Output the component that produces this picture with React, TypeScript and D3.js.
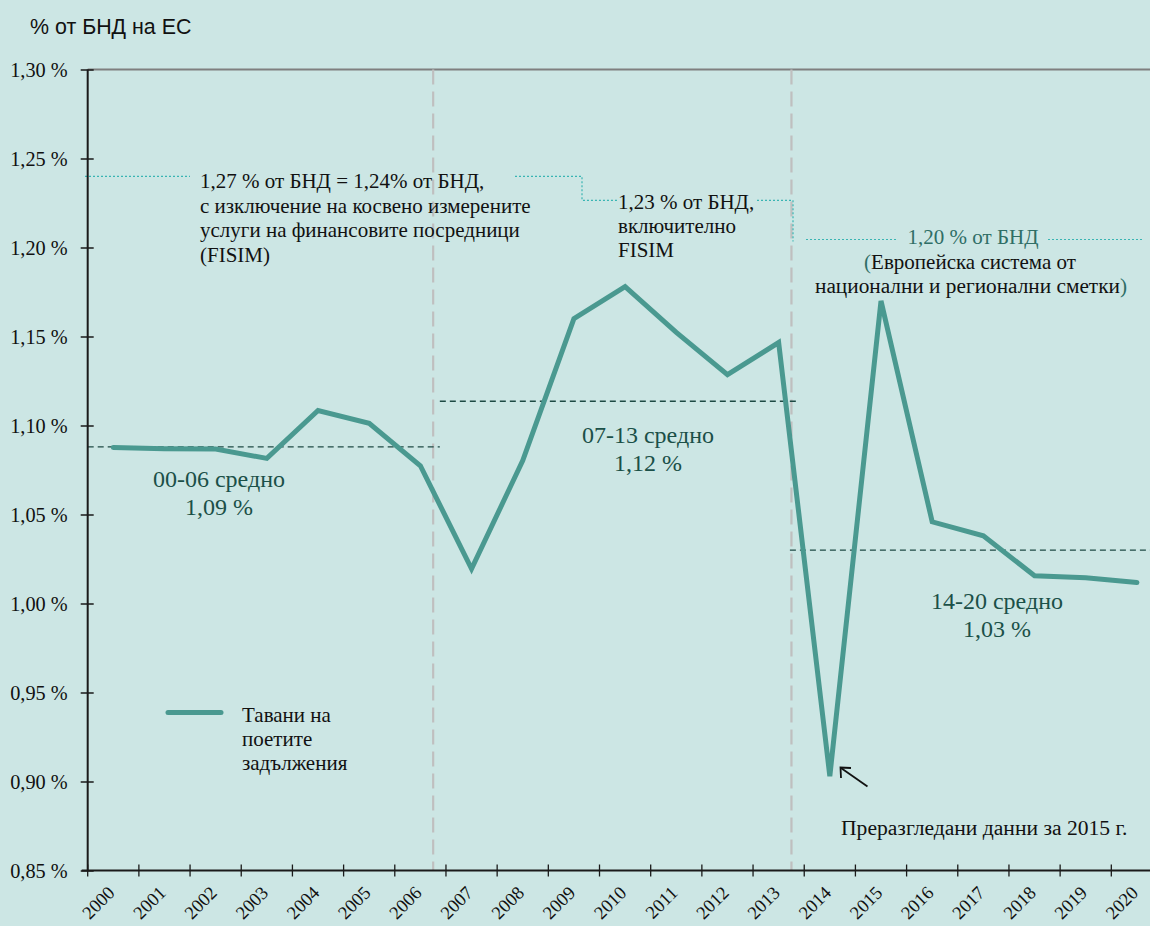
import React, { useEffect, useRef } from "react";
import * as d3 from "d3";

const years = ["2000","2001","2002","2003","2004","2005","2006","2007","2008","2009","2010","2011","2012","2013","2014","2015","2016","2017","2018","2019","2020"];
const ceilings = [1.0876,1.0870,1.0868,1.0815,1.1084,1.1012,1.0774,1.0195,1.0803,1.1600,1.1780,1.1523,1.1286,1.1466,0.9030,1.1700,1.0459,1.0380,1.0156,1.0145,1.0118];
const yTicks = [0.85,0.90,0.95,1.00,1.05,1.10,1.15,1.20,1.25,1.30];
const periodAverages = [1.0880, 1.1136, 1.0300];
const periodAvgLabels = [["00-06 средно","1,09 %"],["07-13 средно","1,12 %"],["14-20 средно","1,03 %"]];
const periodAvgExtent = [[0, 6.88],[6.88, 13.88],[13.72, 21]];
const periodDividers = [6.75, 13.75];
const legendLabel = ["Тавани на","поетите","задължения"];

const W = 1150, H = 926;
const BG = "#cce6e4";
const LINE = "#4a9990";
const DARKTEAL = "#1b5048";
const CYAN = "#3ab5b3";

export default function App() {
  const ref = useRef<SVGSVGElement>(null);

  useEffect(() => {
    const svg = d3.select(ref.current);
    svg.selectAll("*").remove();

    const x0 = 87.7, x1 = 1162.5;
    const x = d3.scaleBand<string>().domain(years).range([x0, x1]).padding(0);
    const xi = d3.scaleLinear().domain([0, years.length]).range([x0, x1]);
    const y = d3.scaleLinear().domain([0.85, 1.30]).range([870.5, 69.5]);
    const cx = (d: string) => (x(d) as number) + x.bandwidth() / 2;
    const fmt = (v: number) => v.toFixed(2).replace(".", ",") + " %";
    const yTop = y(1.30), yBot = y(0.85);
    const lvl1 = y(1.24), lvl2 = y(1.2265), lvl3 = y(1.2045);

    svg.append("rect").attr("width", W).attr("height", H).attr("fill", BG);

    svg.append("text").attr("x", 30).attr("y", 34)
      .attr("font-family", "Liberation Sans, Arial, sans-serif").attr("font-size", 21.4).attr("fill", "#111")
      .text("% от БНД на ЕС");

    svg.append("line").attr("x1", x0).attr("x2", W).attr("y1", yTop).attr("y2", yTop)
      .attr("stroke", "#7f7f7f").attr("stroke-width", 2.2);

    svg.selectAll(".div").data(periodDividers).enter().append("line")
      .attr("x1", (u) => xi(u)).attr("x2", (u) => xi(u)).attr("y1", yTop).attr("y2", yBot)
      .attr("stroke", "#bfbfbf").attr("stroke-width", 2.2).attr("stroke-dasharray", "15,7");

    const cg = svg.append("g").attr("stroke", CYAN).attr("stroke-width", 1.2)
      .attr("stroke-dasharray", "2,2").attr("fill", "none");
    const conn: [number, number][][] = [
      [[85, lvl1], [190, lvl1]],
      [[515, lvl1], [582, lvl1], [582, lvl2], [617, lvl2]],
      [[757, lvl2], [793, lvl2], [793, lvl3 + 2]],
      [[806, lvl3], [898, lvl3]],
      [[1048, lvl3], [1143, lvl3]],
    ];
    conn.forEach((pts) => cg.append("path").attr("d", d3.line()(pts) as string));

    const serif = "Liberation Serif, Times New Roman, serif";
    const ann = svg.append("g").attr("font-family", serif).attr("font-size", 21).attr("fill", "#111");
    const annLines: [number, number, string][] = [
      [200, 188, "1,27 % от БНД = 1,24% от БНД,"],
      [200, 212.5, "с изключение на косвено измерените"],
      [200, 236.8, "услуги на финансовите посредници"],
      [200, 261.5, "(FISIM)"],
      [618, 209, "1,23 % от БНД,"],
      [618, 233, "включително"],
      [618, 257, "FISIM"],
    ];
    annLines.forEach(([ax, ay, t]) => ann.append("text").attr("x", ax).attr("y", ay).text(t));
    ann.append("text").attr("x", 841).attr("y", 835).attr("font-size", 21.6).text("Преразгледани данни за 2015 г.");
    ann.append("text").attr("x", 973).attr("y", 243.5).attr("text-anchor", "middle").attr("fill", "#2f6e66").text("1,20 % от БНД");
    const t2 = ann.append("text").attr("x", 970).attr("y", 269).attr("text-anchor", "middle");
    t2.append("tspan").attr("fill", "#2f6e66").text("(");
    t2.append("tspan").text("Европейска система от");
    const t3 = ann.append("text").attr("x", 971).attr("y", 293).attr("text-anchor", "middle").attr("font-size", 21.3);
    t3.append("tspan").text("национални и регионални сметки");
    t3.append("tspan").attr("fill", "#2f6e66").text(")");

    periodAverages.forEach((v, i) => {
      svg.append("line").attr("x1", xi(periodAvgExtent[i][0])).attr("x2", xi(periodAvgExtent[i][1]))
        .attr("y1", y(v)).attr("y2", y(v)).attr("stroke", "#1e4a44").attr("stroke-width", 1.4)
        .attr("stroke-dasharray", "6,4");
    });
    const avgPos: [number, number][] = [[219, 486.5], [648, 443], [997, 609]];
    const ag = svg.append("g").attr("font-family", serif).attr("font-size", 24).attr("fill", DARKTEAL).attr("text-anchor", "middle");
    periodAvgLabels.forEach((lbl, i) => {
      ag.append("text").attr("x", avgPos[i][0]).attr("y", avgPos[i][1]).text(lbl[0]);
      ag.append("text").attr("x", avgPos[i][0]).attr("y", avgPos[i][1] + 28).text(lbl[1]);
    });

    const line = d3.line<number>().x((_, i) => cx(years[i])).y((v) => y(v));
    svg.append("path").attr("d", line(ceilings) as string).attr("fill", "none").attr("stroke", LINE)
      .attr("stroke-width", 5).attr("stroke-linecap", "round");

    const ar = svg.append("g").attr("stroke", "#111").attr("stroke-width", 1.8).attr("fill", "none");
    ar.append("path").attr("d", "M867.5,786.5L841,768");
    ar.append("path").attr("d", "M841,778L840.5,767.5L851,768");

    svg.append("line").attr("x1", 168).attr("x2", 221).attr("y1", 712.5).attr("y2", 712.5)
      .attr("stroke", LINE).attr("stroke-width", 5).attr("stroke-linecap", "round");
    const lg = svg.append("g").attr("font-family", serif).attr("font-size", 21).attr("fill", "#111");
    legendLabel.forEach((t, i) => lg.append("text").attr("x", 242).attr("y", 721.5 + i * 24.3).text(t));

    // y axis
    const yAxis = d3.axisLeft(y).tickValues(yTicks).tickFormat((d) => fmt(+d)).tickSize(0).tickPadding(0);
    const yg = svg.append("g").attr("transform", `translate(${x0},0)`).call(yAxis);
    yg.select(".domain").remove();
    yg.selectAll("text").attr("x", -20).attr("dy", "0.34em").attr("font-family", serif).attr("font-size", 20.3).attr("fill", "#111");
    yg.selectAll(".tick line").attr("x1", -7).attr("x2", 6).attr("stroke", "#1a1a1a").attr("stroke-width", 1.5);
    svg.append("line").attr("x1", x0).attr("x2", x0).attr("y1", yTop).attr("y2", yBot).attr("stroke", "#1a1a1a").attr("stroke-width", 2);

    // x axis
    svg.append("line").attr("x1", x0 - 6).attr("x2", W).attr("y1", yBot).attr("y2", yBot).attr("stroke", "#1a1a1a").attr("stroke-width", 2);
    const xg = svg.append("g");
    years.forEach((yr) => {
      xg.append("line").attr("x1", x(yr) as number).attr("x2", x(yr) as number)
        .attr("y1", yBot - 6).attr("y2", yBot + 6).attr("stroke", "#1a1a1a").attr("stroke-width", 1.3);
      xg.append("text")
        .attr("transform", `translate(${cx(yr) + 2.5},${yBot + 23.5}) rotate(-45)`)
        .attr("text-anchor", "end").attr("font-family", serif).attr("font-size", 18.5).attr("fill", "#111")
        .text(yr);
    });
  }, []);

  return <svg ref={ref} width={W} height={H} style={{ position: "absolute", left: 0, top: 0, display: "block" }} />;
}
